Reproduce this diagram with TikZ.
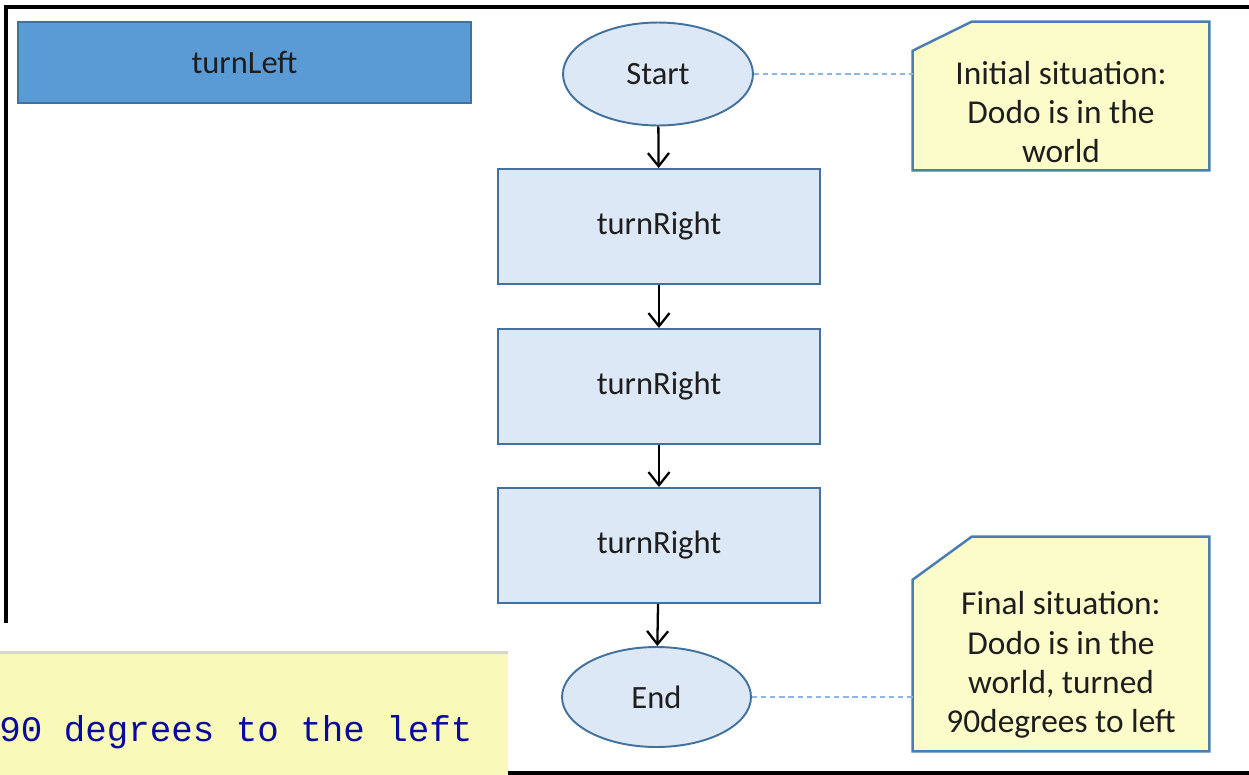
\documentclass[tikz,border=0pt]{standalone}
\usepackage{fontspec}
\setmainfont{Carlito}
\newfontfamily\codefont{Liberation Mono}
\usetikzlibrary{arrows.meta,calc,shapes.geometric}

\definecolor{hdrfill}{HTML}{5B9BD5}
\definecolor{hdrline}{HTML}{41719C}
\definecolor{stepfill}{HTML}{DCE8F5}
\definecolor{stepline}{HTML}{41719C}
\definecolor{notefill}{HTML}{FCFCCB}
\definecolor{noteline}{HTML}{4A7EB0}
\definecolor{linkline}{HTML}{8DB4E2}
\definecolor{codefill}{HTML}{F9F9B9}
\definecolor{coderule}{HTML}{D6D6D0}
\definecolor{codeink}{HTML}{0A0AA0}
\definecolor{ink}{HTML}{1E1E1E}

\tikzset{
  header/.style={draw=hdrline, line width=1.1pt, fill=hdrfill, inner sep=0pt,
    minimum width=9.06cm, minimum height=1.62cm, font=\fontsize{18.5}{21}\selectfont, text=ink},
  stepbox/.style={draw=stepline, line width=1.1pt, fill=stepfill, inner sep=0pt,
    minimum width=6.44cm, minimum height=2.3cm, font=\fontsize{18.5}{21}\selectfont, text=ink},
  terminal/.style={ellipse, draw=stepline, line width=1.1pt, fill=stepfill, inner sep=0pt,
    minimum width=3.8cm, minimum height=2.06cm, font=\fontsize{18.5}{21}\selectfont, text=ink},
  noteframe/.style={draw=none, fill=none, inner sep=0pt, minimum width=5.92cm},
  notetext/.style={align=center, inner sep=0pt, font=\fontsize{19}{22.4}\selectfont, text=ink},
  noteoutline/.style={draw=noteline, line width=1.4pt, fill=notefill, line join=miter},
  flow/.style={draw=black, line width=1.3pt, -{Straight Barb[length=7.5pt, width=12pt, line width=1.3pt]}},
  annot/.style={draw=linkline, line width=0.6pt, dash pattern=on 3pt off 2.2pt},
  frameline/.style={draw=black, line width=2pt},
}

\begin{document}
\begin{tikzpicture}[x=0.02cm, y=-0.02cm]
\useasboundingbox (0,0) rectangle (1249,775);

% outer frame
\draw[frameline] (1252,7) -- (6,7) -- (6,623);
\draw[frameline] (508,773) -- (1252,773);

% method header
\node[header] (hdr) at (244.5,62.5) {turnLeft};

% flow chart
\node[terminal] (start) at (658,74) {Start};
\node[stepbox] (s1) at (659,226.5) {turnRight};
\node[stepbox] (s2) at (659,386.5) {turnRight};
\node[stepbox] (s3) at (659,545.5) {turnRight};
\node[terminal, minimum width=3.78cm, minimum height=2.0cm] (end) at (656.5,697) {End};

\draw[flow] (start) -- (s1);
\draw[flow] (s1) -- (s2);
\draw[flow] (s2) -- (s3);
\draw[flow] (s3) -- (end);

% notes with a cut top-left corner
\node[noteframe, minimum height=2.96cm] (pre) at (1061,96) {};
\draw[noteoutline] (pre.south west) -- ($(pre.north west)+(0,29)$) -- ($(pre.north west)+(59,0)$)
  -- (pre.north east) -- (pre.south east) -- cycle;
\node[notetext] (pretext) at (1061,112) {Initial situation:\\Dodo is in the\\world};

\node[noteframe, minimum height=4.28cm] (post) at (1061,644) {};
\draw[noteoutline] (post.south west) -- ($(post.north west)+(0,43)$) -- ($(post.north west)+(59,0)$)
  -- (post.north east) -- (post.south east) -- cycle;
\node[notetext] (posttext) at (1061,665) {Final situation:\\Dodo is in the\\world, turned\\90degrees to left};

\draw[annot] (start.east) -- (start.east -| pre.west);
\draw[annot] (end.east) -- (end.east -| post.west);

% pasted code comment
\fill[white] (0,623) rectangle (508,775);
\fill[codefill] (0,653) rectangle (508,776);
\draw[coderule, line width=1.5pt] (0,652.5) -- (508,652.5);
\node[anchor=west, inner sep=0pt, text=codeink, font=\codefont\fontsize{20.4}{24}\selectfont] (comment) at (-1,732) {90 degrees to the left};
\end{tikzpicture}
\end{document}
